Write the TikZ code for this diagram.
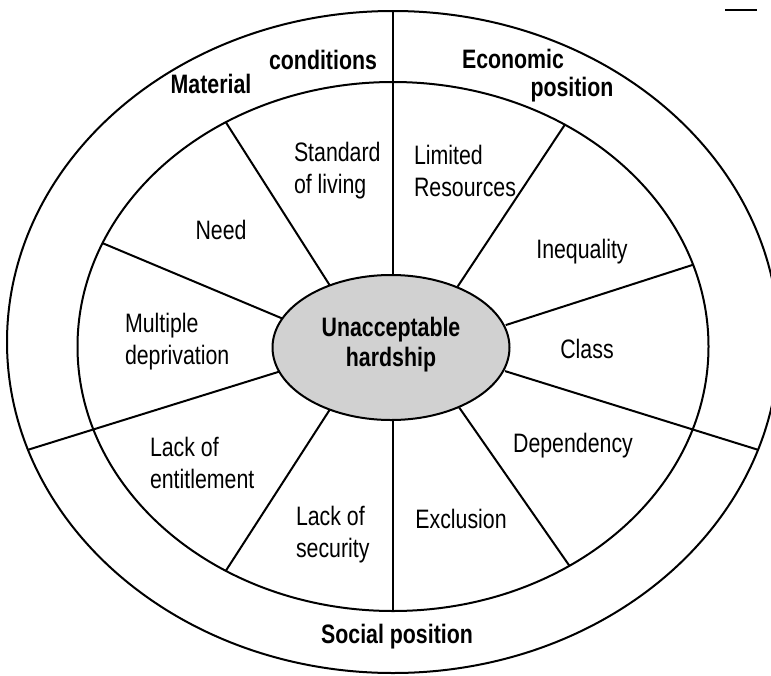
\documentclass[tikz,border=0pt]{standalone}
\usepackage{fontspec}
\setmainfont{Liberation Sans}[FakeStretch=0.8]

\tikzset{every picture/.style={line width=1.5pt}}
\tikzset{
  lbl/.style={inner sep=0.75pt, align=left, font=\fontsize{20}{24}\selectfont},
  hdr/.style={inner sep=0.75pt, align=center, font=\fontsize{20}{24}\selectfont\bfseries}
}

\begin{document}
\begin{tikzpicture}[x=0.75pt,y=0.75pt,yscale=-1,xscale=1]
\useasboundingbox (0,0) rectangle (771,675);

%Shape: Ellipse [outer ring]
\draw (393,342) ellipse [x radius=386, y radius=331];
%Shape: Ellipse [inner ring]
\draw (393,346.5) ellipse [x radius=315.5, y radius=264.5];

%Straight Lines [spokes of the inner ring]
\foreach \a in {18,57,122,157,238,270,304}
  \draw ({393+118.5*cos(\a)},{347.5-72.5*sin(\a)}) -- ({393+315.5*cos(\a)},{346.5-264.5*sin(\a)});
%Straight Lines [spokes through both rings]
\foreach \a in {90,199,341}
  \draw ({393+118.5*cos(\a)},{347.5-72.5*sin(\a)}) -- ({393+386*cos(\a)},{342-331*sin(\a)});

%Shape: Ellipse [centre]
\draw [fill=black!18] (391,347.5) ellipse [x radius=118.5, y radius=72.5];

%Straight Lines [mark at top right]
\draw (725,10) -- (757,10);

% Text Node
\draw (391,342) node [hdr, text depth=0pt] (hard) {Unacceptable\\[-1.5pt]hardship};
% Text Node
\draw (211,84) node [hdr] (mat) {Material};
% Text Node
\draw (323,60) node [hdr] (cond) {conditions};
% Text Node
\draw (513,59) node [hdr] (econ) {Economic};
% Text Node
\draw (572,90) node [hdr] (pos) {position};
% Text Node
\draw (397,637) node [hdr] (soc) {Social position};
% Text Node
\draw (292,171) node [lbl, anchor=west] (std) {Standard\\of living};
% Text Node
\draw (412,171) node [lbl, anchor=west] (lim) {Limited\\Resources};
% Text Node
\draw (221,230) node [lbl] (need) {Need};
% Text Node
\draw (582,252) node [lbl] (ineq) {Inequality};
% Text Node
\draw (123,342) node [lbl, anchor=west] (multi) {Multiple\\deprivation};
% Text Node
\draw (587,349) node [lbl] (cls) {Class};
% Text Node
\draw (148,463) node [lbl, anchor=west] (ent) {Lack of\\entitlement};
% Text Node
\draw (573,446) node [lbl] (dep) {Dependency};
% Text Node
\draw (294,535) node [lbl, anchor=west] (sec) {Lack of\\security};
% Text Node
\draw (461,519) node [lbl] (exc) {Exclusion};

\end{tikzpicture}
\end{document}
